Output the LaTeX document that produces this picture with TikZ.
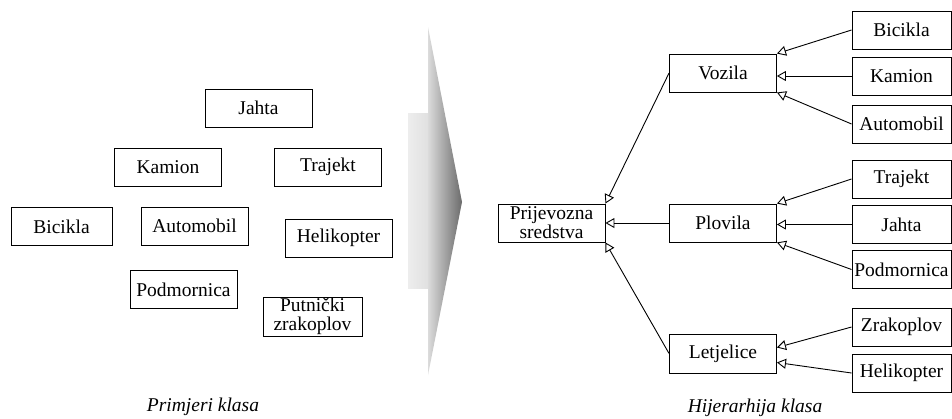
\documentclass[tikz,border=0pt]{standalone}
\usepackage{fontspec}
\setmainfont{Liberation Serif}
\usepackage{tikz}
\usetikzlibrary{arrows.meta,calc,positioning}

\begin{document}
\begin{tikzpicture}[
    >={Triangle[open,length=9pt,width=10pt]},
    font=\fontsize{19.5}{19}\selectfont,
    x=1pt,
    y=-1pt,
    line width=0.9pt,
    klasa/.style={draw, minimum width=107pt, minimum height=38pt, inner sep=0.5pt, align=center},
    dijete/.style={klasa, minimum width=99pt},
    opis/.style={font=\fontsize{19.5}{19}\selectfont\itshape}
]

\useasboundingbox
    (0,0)
    rectangle
    (952,418);

% Primjeri klasa (lijevo)
\node[klasa] (jahtaL) at (258.5,108) {Jahta};
\node[klasa] (kamionL) at (168,167) {Kamion};
\node[klasa] (trajektL) at (328,167) {Trajekt};
\node[klasa, minimum width=101pt] (biciklaL) at (61.5,226.5) {Bicikla};
\node[klasa] (automobilL) at (194.5,226) {Automobil};
\node[klasa] (helikopterL) at (338.5,238) {Helikopter};
\node[klasa] (podmornicaL) at (183.5,289.5) {Podmornica};
\node[klasa, minimum width=99pt, minimum height=39pt] (putnickiL) at (312.5,316.5)
    {Putnički\\zrakoplov};

% Velika strelica
\shade[left color=black!7, right color=black!12]
    (408,113)
    rectangle
    (428,288);

\shade[left color=black!14, right color=black!58]
    (428,27)
    --
    (462,202)
    --
    (428,375)
    -- cycle;

% Hijerarhija klasa (desno)
\node[klasa] (prijevozna) at (551.5,223) {Prijevozna\\sredstva};

\node[klasa] (vozila) at (723,73) {Vozila};
\node[klasa] (plovila) at (723,223) {Plovila};
\node[klasa, minimum height=39pt] (letjelice) at (723,353.5) {Letjelice};

\node[dijete] (bicikla) at (901.5,30) {Bicikla};
\node[dijete] (kamion) at (901.5,76) {Kamion};
\node[dijete] (automobil) at (901.5,124) {Automobil};
\node[dijete] (trajekt) at (901.5,179) {Trajekt};
\node[dijete] (jahta) at (901.5,224.5) {Jahta};
\node[dijete] (podmornica) at (901.5,269.5) {Podmornica};
\node[dijete] (zrakoplov) at (901.5,327) {Zrakoplov};
\node[dijete] (helikopter) at (901.5,373) {Helikopter};

% Nasljeđivanje
\draw[->] (vozila.west) -- (prijevozna.north east);
\draw[->] (plovila.west) -- (prijevozna.east);
\draw[->] (letjelice.west) -- (prijevozna.south east);

\draw[->] (bicikla.west) -- (vozila.north east);
\draw[->] (kamion.west) -- (vozila.east |- kamion.west);
\draw[->] (automobil.west) -- (vozila.south east);

\draw[->] (trajekt.west) -- (plovila.north east);
\draw[->] (jahta.west) -- (plovila.east |- jahta.west);
\draw[->] (podmornica.west) -- (plovila.south east);

\draw[->] (zrakoplov.west) -- ($(letjelice.east)!0.3!(letjelice.north east)$);
\draw[->] (helikopter.west) -- ($(letjelice.east)!0.45!(letjelice.south east)$);

% Opisi
\node[opis] (primjeri) at (203,407) {Primjeri klasa};
\node[opis] (hijerarhija) at (755,408) {Hijerarhija klasa};

\end{tikzpicture}
\end{document}
